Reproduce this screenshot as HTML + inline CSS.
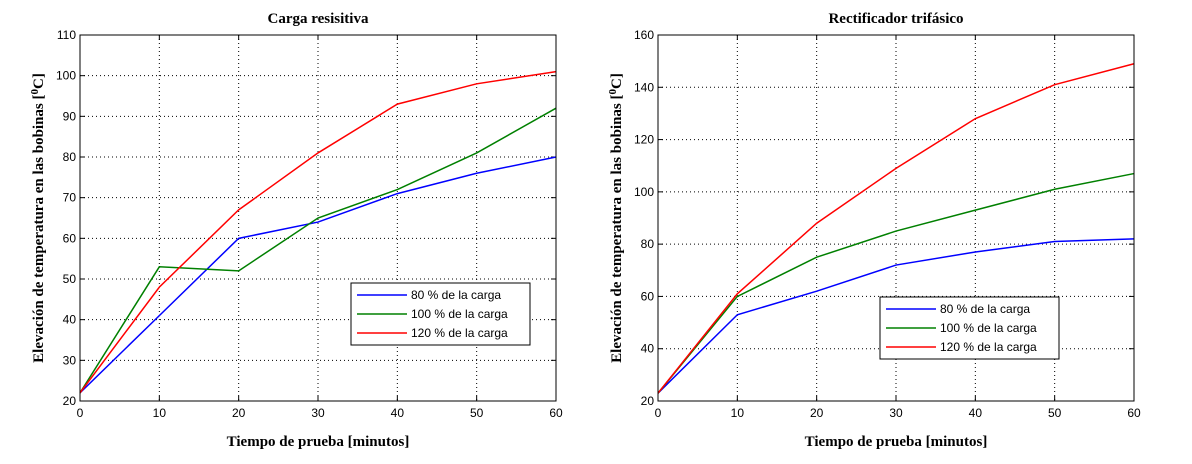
<!DOCTYPE html>
<html><head><meta charset="utf-8"><style>
body{margin:0;background:#fff;}
svg text{font-family:"Liberation Sans",sans-serif;font-size:12px;}
.serif{font-family:"Liberation Serif",serif !important;font-weight:bold;font-size:15px !important;}
</style></head><body>
<svg id="c" width="1192" height="459"></svg>
<script>
const xCats=[0,10,20,30,40,50,60];
const leftBlue=[22,41,60,64,71,76,80];
const leftGreen=[22,53,52,65,72,81,92];
const leftRed=[22,48,67,81,93,98,101];
const rightBlue=[23,53,62,72,77,81,82];
const rightGreen=[23,60,75,85,93,101,107];
const rightRed=[23,61,88,109,128,141,149];
const leftYTicks=[20,30,40,50,60,70,80,90,100,110];
const rightYTicks=[20,40,60,80,100,120,140,160];
const legendLabels=[" 80 % de la carga","100 % de la carga","120 % de la carga"];
const colors=["#0000ff","#008000","#ff0000"];
const NS="http://www.w3.org/2000/svg";
const svg=document.getElementById('c');
function mk(t,a,p){const e=document.createElementNS(NS,t);for(const k in a)e.setAttribute(k,a[k]);(p||svg).appendChild(e);return e;}
function panel(name,x0,x1,y0,y1,ymin,ymax,yt,series,title,leg){
  const g=mk('g',{});
  
  
  const sx=v=>x0+(v-0)/60*(x1-x0), sy=v=>y1-(v-ymin)/(ymax-ymin)*(y1-y0);
  mk('rect',{x:x0,y:y0,width:x1-x0,height:y1-y0,fill:'#fff',stroke:'none'},g);
  xCats.forEach(v=>{
    if(v>0&&v<60)mk('line',{x1:sx(v),x2:sx(v),y1:y0,y2:y1,stroke:'#000','stroke-dasharray':'1,3','stroke-width':1},g);
    mk('line',{x1:sx(v),x2:sx(v),y1:y1,y2:y1-5,stroke:'#000'},g);
    mk('line',{x1:sx(v),x2:sx(v),y1:y0,y2:y0+5,stroke:'#000'},g);
    const t=mk('text',{x:sx(v),y:y1+16,'text-anchor':'middle'},g);t.textContent=v;
    
    
  });
  yt.forEach(v=>{
    if(v>ymin&&v<ymax)mk('line',{x1:x0,x2:x1,y1:sy(v),y2:sy(v),stroke:'#000','stroke-dasharray':'1,3'},g);
    mk('line',{x1:x0,x2:x0+5,y1:sy(v),y2:sy(v),stroke:'#000'},g);
    mk('line',{x1:x1,x2:x1-5,y1:sy(v),y2:sy(v),stroke:'#000'},g);
    const t=mk('text',{x:x0-4,y:sy(v)+4,'text-anchor':'end'},g);t.textContent=v;
    
    
  });
  series.forEach((s,i)=>{
    const p=mk('polyline',{points:s.map((v,j)=>sx(xCats[j])+','+sy(v)).join(' '),fill:'none',stroke:colors[i],'stroke-width':1.5},g);
    
    
  });
  mk('rect',{x:x0,y:y0,width:x1-x0,height:y1-y0,fill:'none',stroke:'#000'},g);
  const tt=mk('text',{x:(x0+x1)/2,y:y0-12,'text-anchor':'middle',class:'serif'},g);tt.textContent=title;
  
  
  const xl=mk('text',{x:(x0+x1)/2,y:y1+45,'text-anchor':'middle',class:'serif'},g);xl.textContent='Tiempo de prueba [minutos]';
  
  
  const yl=mk('text',{x:0,y:0,'text-anchor':'middle',class:'serif',transform:`translate(${x0-37},${(y0+y1)/2}) rotate(-90)`},g);
  yl.innerHTML='Elevación de temperatura en las bobinas [<tspan dy="-5" font-size="11">0</tspan><tspan dy="5">C]</tspan>';
  
  
  const lg=mk('g',{},g);
  
  
  mk('rect',{x:leg[0],y:leg[1],width:179,height:62,fill:'#fff',stroke:'#000'},lg);
  legendLabels.forEach((l,i)=>{
    const yy=leg[1]+12+i*19;
    mk('line',{x1:leg[0]+6,x2:leg[0]+56,y1:yy,y2:yy,stroke:colors[i],'stroke-width':1.5},lg);
    const t=mk('text',{x:leg[0]+60,y:yy+4},lg);t.textContent=l;
    
    
  });
}
panel('left-panel',80,556,35,401,20,110,leftYTicks,[leftBlue,leftGreen,leftRed],'Carga resisitiva',[351,283]);
panel('right-panel',658,1134,35,401,20,160,rightYTicks,[rightBlue,rightGreen,rightRed],'Rectificador trifásico',[880,297]);
</script>
</body></html>
